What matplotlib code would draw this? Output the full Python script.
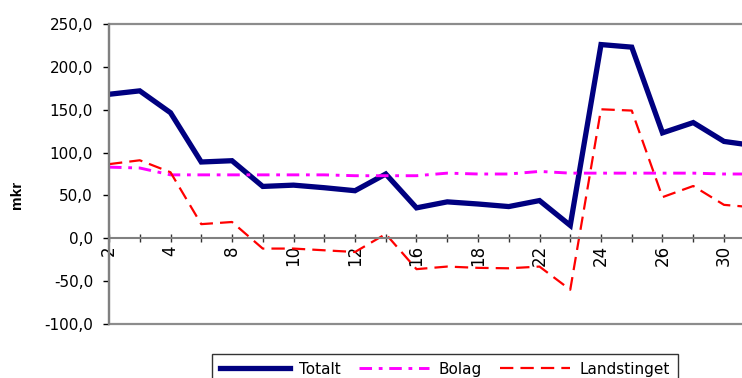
import matplotlib.pyplot as plt
from matplotlib.ticker import FuncFormatter

plt.rcParams['font.family'] = ['DejaVu Sans']

# category labels (only every other one is printed on the axis)
categories = ['2', '', '4', '', '8', '', '10', '', '12', '', '16', '',
              '18', '', '22', '', '24', '', '26', '', '30', '']

totalt = [168, 172, 146.5, 89, 90.5, 60.5, 62, 59, 55.5, 75, 35.5, 42.5,
          40, 37, 44, 15, 226, 223, 123, 135, 113, 108]
bolag = [83, 82, 74, 74, 74, 74, 74, 74, 73, 73, 73, 76,
         75, 75, 78, 76, 76, 76, 76, 76, 75, 75]
landstinget = [86.5, 91, 77, 16.5, 19, -12, -12, -14, -16, 5, -36, -33,
               -34.5, -35, -33, -60, 150.5, 149, 48, 61, 39, 36]

x = list(range(len(categories)))

# plot area runs past the right edge of the picture (chart is cropped there)
right_px = 770
fig = plt.figure(figsize=(7.42, 3.78), dpi=100)
ax = fig.add_axes([109 / 742, 1 - 324 / 378, (right_px - 109) / 742, 300 / 378])

ax.plot(x, totalt, color='#000080', linewidth=3.8, label='Totalt',
        solid_joinstyle='miter')
ax.plot(x, bolag, color='#FF00FF', linewidth=2.1,
        linestyle=(0, (4.3, 2.3, 1.3, 2.3)), label='Bolag')
ax.plot(x, landstinget, color='#FF0000', linewidth=1.6,
        linestyle=(0, (6, 3.2)), label='Landstinget')

# frame of the plot area, x axis crossing at zero
ax.patch.set_edgecolor('#8c8c8c')
ax.patch.set_linewidth(1.6)
for s in ['top', 'right']:
    ax.spines[s].set_visible(False)
ax.spines['left'].set_color('#808080')
ax.spines['left'].set_linewidth(1.6)
ax.spines['bottom'].set_position(('data', 0))
ax.spines['bottom'].set_color('#808080')
ax.spines['bottom'].set_linewidth(1.5)

ax.set_ylim(-100, 250)
ax.set_xlim(0, (right_px - 109) / 30.75)
ax.set_yticks([-100, -50, 0, 50, 100, 150, 200, 250])
ax.yaxis.set_major_formatter(FuncFormatter(lambda v, p: f'{v:.1f}'.replace('.', ',')))
ax.set_xticks(x)
ax.set_xticklabels(categories)

ax.tick_params(axis='y', direction='out', length=4.5, width=1, color='black',
               labelsize=11, pad=7)
ax.tick_params(axis='x', direction='inout', length=6, width=1, color='#333333',
               labelsize=12, pad=2, labelrotation=90)

fig.text(17 / 742, 1 - 195 / 378, 'mkr', rotation=90, fontsize=11,
         fontweight='bold', family='Liberation Sans', ha='center', va='center')

leg = fig.legend(loc='upper left', bbox_to_anchor=(212 / 742, 1 - 354 / 378),
                 bbox_transform=fig.transFigure, ncol=3, fontsize=11,
                 frameon=True, fancybox=False, borderaxespad=0,
                 handlelength=4.6, handletextpad=0.6, columnspacing=1.2,
                 borderpad=0.5)
leg.get_frame().set_edgecolor('black')
leg.get_frame().set_linewidth(1)

plt.savefig('out.png', dpi=100)
